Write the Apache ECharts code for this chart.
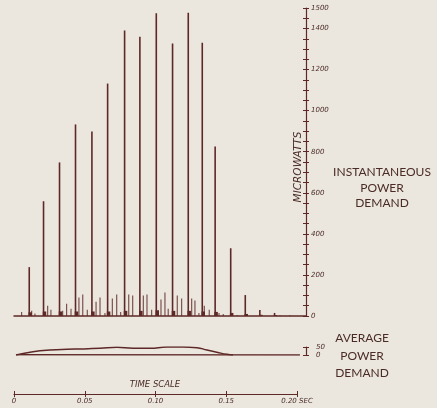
<html>
<head>
<meta charset="utf-8">
<title>Power demand</title>
<style>
  * { margin: 0; padding: 0 }
  html, body { width: 100%; height: 100%; background: #ebe7df; }
  #chart { width: 437px; height: 408px; }
</style>
</head>
<body>
<div id="chart"></div>
<script src="https://cdn.jsdelivr.net/npm/echarts@6/dist/echarts.min.js"></script>
<script>
// main spikes (time in sec, microwatts)
const majorTimes = [0.0106, 0.0207, 0.0320, 0.0433, 0.0549, 0.0660, 0.0780, 0.0888, 0.1004,
  0.1119, 0.1230, 0.1329, 0.1420, 0.1530, 0.1633, 0.1736, 0.1840];
const majorValues = [238, 559, 748, 933, 899, 1132, 1390, 1360, 1474, 1327, 1477, 1331, 826, 330, 102, 29, 15];
const baseValues = [18, 22, 22, 22, 22, 22, 25, 25, 28, 25, 25, 22, 20, 15, 10, 6, 4];

// small spikes in between
const minorTimes = [0.0054, 0.0125, 0.0148, 0.0238, 0.0261, 0.0344, 0.0372, 0.0403, 0.0459, 0.0486,
  0.0518, 0.0580, 0.0608, 0.0643, 0.0695, 0.0726, 0.0754, 0.0811, 0.0839, 0.0914, 0.0940, 0.0973,
  0.1039, 0.1067, 0.1090, 0.1154, 0.1185, 0.1256, 0.1279, 0.1307, 0.1345, 0.1380, 0.1449, 0.1479,
  0.1578, 0.1880, 0.1950];
const minorValues = [20, 25, 12, 50, 30, 25, 60, 35, 90, 105, 30, 70, 90, 15, 85, 105, 20, 105, 100,
  100, 105, 30, 80, 115, 35, 100, 85, 85, 75, 15, 50, 30, 15, 10, 5, 4, 4];

// average power demand curve
const avgTimes = [0.0014, 0.0134, 0.0254, 0.0375, 0.0488, 0.0608, 0.0728, 0.0841, 0.0961, 0.1081,
  0.1194, 0.1293, 0.1364, 0.1435, 0.1505, 0.1548];
const avgValues = [0, 20, 31, 36, 38, 42, 48, 42, 42, 50, 50, 46, 31, 17, 4, 0];
const avgBaseline = [[0.0014, 2], [0.2021, 0]];

const yLabels = [0, 200, 400, 600, 800, 1000, 1200, 1400, 1500];
const timeLabels = ['0', '0.05', '0.10', '0.15', '0.20 SEC'];

const ink = '#5e2826';
const textInk = '#4a2b27';
const xMax = 0.2064;

const chart = echarts.init(document.getElementById('chart'));

const tickFont = { color: textInk, fontSize: 7, fontStyle: 'italic', fontFamily: 'DejaVu Sans' };
const noSplit = { show: false };
const noLine = { show: false, onZero: false };

const topGrid = { left: 14, top: 8, width: 292, height: 308 };
const avgGrid = { left: 14, top: 347, width: 292, height: 8 };
const timeGrid = { left: 14, top: 383, width: 283, height: 11 };

const option = {
  backgroundColor: '#ebe7df',
  animation: false,
  grid: [topGrid, avgGrid, timeGrid, { ...topGrid }, { ...avgGrid }, { ...timeGrid }],
  xAxis: [
    { type: 'value', gridIndex: 0, min: 0, max: xMax, splitLine: noSplit,
      axisTick: { show: false }, axisLabel: { show: false },
      axisLine: { show: true, onZero: false, lineStyle: { color: ink, width: 1.5 } } },
    { type: 'value', gridIndex: 1, min: 0, max: xMax, show: false, axisLine: noLine },
    { type: 'value', gridIndex: 2, min: 0, max: 0.2, interval: 0.05, splitLine: noSplit,
      axisLine: { onZero: false, lineStyle: { color: ink, width: 1.2 } },
      axisTick: { length: 3, lineStyle: { color: ink } },
      axisLabel: { ...tickFont, margin: 4,
        formatter: v => timeLabels[Math.round(v / 0.05)] } },
    { type: 'value', gridIndex: 3, min: 0, max: xMax, show: false, axisLine: noLine },
    { type: 'value', gridIndex: 4, min: 0, max: xMax, show: false, axisLine: noLine },
    { type: 'value', gridIndex: 5, position: 'bottom', min: 0, max: 0.2, interval: 0.05, splitLine: noSplit,
      axisLine: noLine, axisLabel: { show: false },
      axisTick: { inside: true, length: 3, lineStyle: { color: ink } } }
  ],
  yAxis: [
    { type: 'value', gridIndex: 0, position: 'right', min: 0, max: 1500, interval: 50, splitLine: noSplit,
      axisLine: { show: true, onZero: false, lineStyle: { color: ink, width: 1.2 } },
      axisTick: { length: 3, lineStyle: { color: ink } },
      axisLabel: { ...tickFont, margin: 5,
        formatter: v => yLabels.indexOf(v) >= 0 ? String(v) : '' } },
    { type: 'value', gridIndex: 1, position: 'right', min: 0, max: 50, interval: 50, splitLine: noSplit,
      axisLine: { show: true, onZero: false, lineStyle: { color: ink, width: 1.2 } },
      axisTick: { length: 3, lineStyle: { color: ink } },
      axisLabel: { ...tickFont, margin: 10 } },
    { type: 'value', gridIndex: 2, show: false, axisLine: noLine },
    { type: 'value', gridIndex: 3, position: 'right', min: 0, max: 1500, interval: 50, splitLine: noSplit,
      axisLine: noLine, axisLabel: { show: false },
      axisTick: { inside: true, length: 3, lineStyle: { color: ink } } },
    { type: 'value', gridIndex: 4, position: 'right', min: 0, max: 50, interval: 50, splitLine: noSplit,
      axisLine: noLine, axisLabel: { show: false },
      axisTick: { inside: true, length: 3, lineStyle: { color: ink } } },
    { type: 'value', gridIndex: 5, show: false, axisLine: noLine }
  ],
  series: [
    { type: 'bar', xAxisIndex: 0, yAxisIndex: 0, barWidth: 1.6, barGap: '-100%',
      itemStyle: { color: ink },
      data: majorTimes.map((t, i) => [t, majorValues[i]]) },
    { type: 'bar', xAxisIndex: 0, yAxisIndex: 0, barWidth: 3.5, barGap: '-100%',
      itemStyle: { color: ink },
      data: majorTimes.map((t, i) => [t, baseValues[i]]) },
    { type: 'bar', xAxisIndex: 0, yAxisIndex: 0, barWidth: 1.1, barGap: '-100%',
      itemStyle: { color: ink, opacity: 0.85 },
      data: minorTimes.map((t, i) => [t, minorValues[i]]) },
    { type: 'line', xAxisIndex: 1, yAxisIndex: 1, smooth: true, symbol: 'none',
      lineStyle: { color: ink, width: 1.5 },
      data: avgTimes.map((t, i) => [t, avgValues[i]]) },
    { type: 'line', xAxisIndex: 1, yAxisIndex: 1, symbol: 'none',
      lineStyle: { color: ink, width: 1.5 },
      data: avgBaseline }
  ],
  graphic: [
    { type: 'text', x: 382, y: 188, style: { text: 'INSTANTANEOUS\nPOWER\nDEMAND', fill: textInk,
      font: '12px Lato', align: 'center', verticalAlign: 'middle', lineHeight: 15.5 } },
    { type: 'text', x: 362, y: 356, style: { text: 'AVERAGE\nPOWER\nDEMAND', fill: textInk,
      font: '12px Lato', align: 'center', verticalAlign: 'middle', lineHeight: 17.5 } },
    { type: 'text', x: 298, y: 167, rotation: Math.PI / 2,
      style: { text: 'MICROWATTS', fill: textInk, font: 'italic 10.5px "DejaVu Sans"',
        align: 'center', verticalAlign: 'middle' } },
    { type: 'text', x: 155, y: 385, style: { text: 'TIME SCALE', fill: textInk,
      font: 'italic 8.5px "DejaVu Sans"', align: 'center', verticalAlign: 'middle' } }
  ]
};

chart.setOption(option);
</script>
</body>
</html>
